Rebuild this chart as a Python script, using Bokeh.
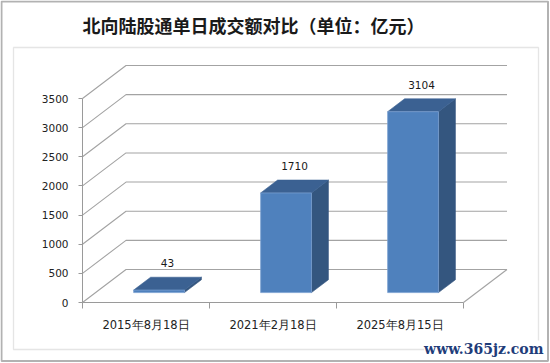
from bokeh.plotting import figure
from bokeh.models import FixedTicker, Label, BoxAnnotation, Range1d
from bokeh.embed import file_html
from bokeh.resources import INLINE

# ---------------- data ----------------
categories = ["2015年8月18日", "2021年2月18日", "2025年8月15日"]
values = [43, 1710, 3104]
y_ticks = [0, 500, 1000, 1500, 2000, 2500, 3000, 3500]
title_text = "北向陆股通单日成交额对比（单位：亿元）"
watermark_text = "www.365jz.com"

# ---------------- layout / style ----------------
W, H = 550, 363
ORIGIN_X, ORIGIN_Y = 82, 302       # canvas px of the front-plane origin (value 0, left edge)
PX_PER_CAT = 127.0                 # horizontal px per category on the front plane
PX_PER_VAL = 204.0 / 3500.0        # vertical px per value unit
DEPTH_X_PX, DEPTH_Y_PX = 43.5, 33.0
BAR_W = 0.4
F_FRONT, F_BACK = 0.30, 0.69       # bar front / back position in the depth

DX = DEPTH_X_PX / PX_PER_CAT
DY = DEPTH_Y_PX / PX_PER_VAL
n = len(categories)


def cx(px):
    return (px - ORIGIN_X) / PX_PER_CAT


def cy(py):
    return (ORIGIN_Y - py) / PX_PER_VAL


p = figure(width=W, height=H, x_range=Range1d(cx(0), cx(W)), y_range=Range1d(cy(H), cy(0)),
           output_backend="svg", toolbar_location=None,
           min_border_left=0, min_border_right=0, min_border_top=0, min_border_bottom=0)
p.outline_line_color = None
p.background_fill_color = "white"
p.border_fill_color = "white"
p.xgrid.visible = False
p.ygrid.visible = False

GRID = "#a3a3a3"

# back wall / side wall gridlines
gx, gy = [], []
for t in y_ticks:
    gx.append([0, DX, n + DX])
    gy.append([t, t + DY, t + DY])
gx.append([n, n + DX])
gy.append([0, DY])
p.multi_line(gx, gy, line_color=GRID, line_width=1.1)

# 3D bars
fx, fy, tx, ty, sx, sy = [], [], [], [], [], []
for i, v in enumerate(values):
    x0 = i + (1 - BAR_W) / 2
    x1 = x0 + BAR_W
    a, b = F_FRONT, F_BACK
    fx.append([x0 + a * DX, x1 + a * DX, x1 + a * DX, x0 + a * DX])
    fy.append([a * DY, a * DY, v + a * DY, v + a * DY])
    tx.append([x0 + a * DX, x1 + a * DX, x1 + b * DX, x0 + b * DX])
    ty.append([v + a * DY, v + a * DY, v + b * DY, v + b * DY])
    sx.append([x1 + a * DX, x1 + b * DX, x1 + b * DX, x1 + a * DX])
    sy.append([a * DY, b * DY, v + b * DY, v + a * DY])
p.patches(sx, sy, fill_color="#34567f", line_color="#34567f", line_width=0.6)
p.patches(tx, ty, fill_color="#3b6192", line_color="#3b6192", line_width=0.6)
p.patches(fx, fy, fill_color="#4f81bd", line_color="#7aa0d0", line_width=0.8)

# data labels
lx = [i + 0.5 + (F_FRONT + F_BACK) / 2 * DX for i in range(n)]
ly = [v + F_BACK * DY for v in values]
p.text(lx, ly, text=[str(v) for v in values], y_offset=-14,
       text_align="center", text_baseline="middle",
       text_font_size="10.5px", text_color="#1a1a1a", text_font={"value": "DejaVu Sans"})

# y axis (front plane), drawn inside the frame
ya = p.yaxis[0]
ya.fixed_location = 0
ya.ticker = FixedTicker(ticks=y_ticks)
ya.bounds = (0, 3500)
ya.axis_line_color = "#9a9a9a"
ya.major_tick_line_color = "#9a9a9a"
ya.major_tick_out = 4
ya.major_tick_in = 0
ya.minor_tick_line_color = None
ya.major_label_standoff = 10
ya.major_label_text_font = "DejaVu Sans"
ya.major_label_text_font_size = "10.5px"
ya.major_label_text_color = "#222222"

# x axis (front floor edge)
xa = p.xaxis[0]
xa.fixed_location = 0
xa.ticker = FixedTicker(ticks=[i + 0.5 for i in range(n)], minor_ticks=list(range(n + 1)))
xa.major_label_overrides = {i + 0.5: c for i, c in enumerate(categories)}
xa.bounds = (0, n)
xa.axis_line_color = "#9a9a9a"
xa.major_tick_line_color = None
xa.major_tick_out = 0
xa.major_tick_in = 0
xa.minor_tick_line_color = "#9a9a9a"
xa.minor_tick_out = 6
xa.minor_tick_in = 0
xa.major_label_standoff = 9
xa.major_label_text_font = "DejaVu Sans"
xa.major_label_text_font_size = "11.5px"
xa.major_label_text_color = "#222222"

# frames
p.add_layout(BoxAnnotation(left=cx(13), right=cx(538), top=cy(47), bottom=cy(349),
                           fill_color=None, line_color="#a8a8a8", line_width=1.3))
p.add_layout(BoxAnnotation(left=cx(1), right=cx(547.5), top=cy(1), bottom=cy(360.5),
                           fill_color=None, line_color="black", line_width=2))

# title
p.add_layout(Label(x=cx(253), y=cy(24), text=title_text, text_align="center",
                   text_baseline="middle", text_font="Noto Sans CJK SC",
                   text_font_style="bold", text_font_size="18px", text_color="#1a1a1a"))

# watermark
p.add_layout(Label(x=cx(543), y=cy(348), text=watermark_text, text_align="right",
                   text_baseline="middle", text_font="DejaVu Serif",
                   text_font_style="bold", text_font_size="14px", text_color="#1f3d7a",
                   background_fill_color="white"))

open("out.html", "w").write(file_html(p, INLINE))
